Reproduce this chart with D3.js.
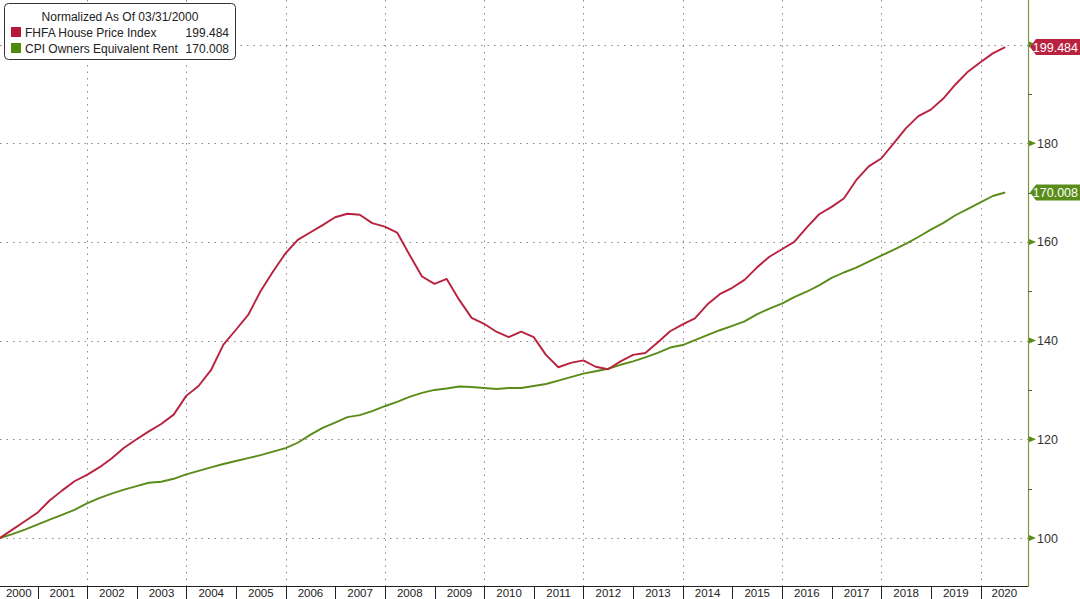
<!DOCTYPE html>
<html><head><meta charset="utf-8">
<script src="https://cdn.jsdelivr.net/npm/d3@7"></script>
<style>
html,body{margin:0;padding:0;background:#fff;}
svg{display:block;font-family:"Liberation Sans",Arial,sans-serif;}
</style></head>
<body><svg id="chart" width="1080" height="599"></svg>
<script>
// ---- data (quarterly, normalized to 100 at 03/31/2000) ----
const quarters = [
"2000-03-31","2000-06-30","2000-09-30","2000-12-31",
"2001-03-31","2001-06-30","2001-09-30","2001-12-31",
"2002-03-31","2002-06-30","2002-09-30","2002-12-31",
"2003-03-31","2003-06-30","2003-09-30","2003-12-31",
"2004-03-31","2004-06-30","2004-09-30","2004-12-31",
"2005-03-31","2005-06-30","2005-09-30","2005-12-31",
"2006-03-31","2006-06-30","2006-09-30","2006-12-31",
"2007-03-31","2007-06-30","2007-09-30","2007-12-31",
"2008-03-31","2008-06-30","2008-09-30","2008-12-31",
"2009-03-31","2009-06-30","2009-09-30","2009-12-31",
"2010-03-31","2010-06-30","2010-09-30","2010-12-31",
"2011-03-31","2011-06-30","2011-09-30","2011-12-31",
"2012-03-31","2012-06-30","2012-09-30","2012-12-31",
"2013-03-31","2013-06-30","2013-09-30","2013-12-31",
"2014-03-31","2014-06-30","2014-09-30","2014-12-31",
"2015-03-31","2015-06-30","2015-09-30","2015-12-31",
"2016-03-31","2016-06-30","2016-09-30","2016-12-31",
"2017-03-31","2017-06-30","2017-09-30","2017-12-31",
"2018-03-31","2018-06-30","2018-09-30","2018-12-31",
"2019-03-31","2019-06-30","2019-09-30","2019-12-31",
"2020-03-31","2020-06-30"];

const fhfa = [
100.0,101.7,103.4,105.1,107.6,109.6,111.5,112.8,114.3,116.1,118.3,120.0,
121.6,123.1,125.0,128.8,130.8,134.0,139.2,142.2,145.2,150.0,154.0,157.7,
160.4,161.9,163.4,165.0,165.7,165.5,163.8,163.1,161.9,157.4,153.0,151.5,
152.5,148.3,144.6,143.4,141.8,140.7,141.8,140.7,137.1,134.6,135.5,136.0,
134.7,134.2,135.8,137.1,137.5,139.6,141.9,143.3,144.5,147.3,149.4,150.7,
152.3,154.8,157.0,158.5,160.0,162.9,165.6,167.1,168.8,172.5,175.3,176.9,
179.9,183.0,185.5,186.8,189.0,191.9,194.5,196.4,198.2,199.484];

const oer = [
100.0,100.8,101.7,102.7,103.7,104.7,105.7,107.0,108.1,109.0,109.8,110.5,
111.2,111.4,112.0,112.9,113.6,114.3,115.0,115.6,116.2,116.8,117.5,118.2,
119.3,120.9,122.3,123.4,124.5,124.9,125.7,126.7,127.6,128.6,129.4,130.0,
130.3,130.7,130.6,130.4,130.2,130.4,130.4,130.8,131.2,131.9,132.6,133.3,
133.8,134.3,135.1,135.8,136.6,137.5,138.6,139.1,140.1,141.1,142.1,143.0,
143.9,145.3,146.5,147.5,148.8,149.9,151.2,152.7,153.8,154.8,156.0,157.2,
158.4,159.6,161.0,162.5,163.8,165.4,166.7,168.0,169.3,170.008];

const years = [2000,2001,2002,2003,2004,2005,2006,2007,2008,2009,2010,
               2011,2012,2013,2014,2015,2016,2017,2018,2019,2020];
const gridYears = [2002,2004,2006,2008,2010,2012,2014,2016,2018,2020];
const yTickLabels = [100,120,140,160,180];
const yGrid = [100,120,140,160,180,200];
const yMinor = [110,130,150,170,190];

const legendTitle = "Normalized As Of 03/31/2000";
const seriesNames = ["FHFA House Price Index","CPI Owners Equivalent Rent"];
const seriesLast = ["199.484","170.008"];

// ---- layout ----
const RED = "#b8223f", GREEN = "#5a8c1a";
const plotL = 0, plotR = 1028, plotT = 0, plotB = 586;
const parse = d3.utcParse("%Y-%m-%d");
const dates = quarters.map(parse);

const x = d3.scaleUtc()
  .domain([parse("2000-03-31"), parse("2020-12-15")])
  .range([plotL, plotR]);
const y = d3.scaleLinear().domain([100, 200]).range([538, 44.5]);

const svg = d3.select("#chart");

// grid
const grid = svg.append("g").attr("stroke", "#8a8a8a").attr("stroke-width", 1)
  .attr("stroke-dasharray", "1.5,5");
grid.selectAll("line.h").data(yGrid).enter().append("line")
  .attr("x1", plotL).attr("x2", plotR)
  .attr("y1", d => Math.round(y(d)) + 0.5).attr("y2", d => Math.round(y(d)) + 0.5);
grid.selectAll("line.v").data(gridYears).enter().append("line")
  .attr("x1", d => Math.round(x(Date.UTC(d,0,1))) + 0.5)
  .attr("x2", d => Math.round(x(Date.UTC(d,0,1))) + 0.5)
  .attr("y1", plotT).attr("y2", plotB);

// lines
const line = (vals) => d3.line()
  .x((d, i) => x(dates[i])).y(d => y(d))(vals);
svg.append("path").attr("d", line(oer)).attr("fill", "none")
  .attr("stroke", GREEN).attr("stroke-width", 1.9).attr("stroke-linejoin", "round");
svg.append("path").attr("d", line(fhfa)).attr("fill", "none")
  .attr("stroke", RED).attr("stroke-width", 1.9).attr("stroke-linejoin", "round");

// x axis
const xa = svg.append("g");
xa.append("line").attr("x1", plotL).attr("x2", plotR)
  .attr("y1", plotB + 0.5).attr("y2", plotB + 0.5).attr("stroke", "#222").attr("stroke-width", 1.2);
xa.selectAll("line.sep").data(years.slice(1)).enter().append("line")
  .attr("x1", d => Math.round(x(Date.UTC(d,0,1))) + 0.5)
  .attr("x2", d => Math.round(x(Date.UTC(d,0,1))) + 0.5)
  .attr("y1", plotB).attr("y2", 599).attr("stroke", "#222").attr("stroke-width", 1);
xa.selectAll("text").data(years).enter().append("text")
  .attr("x", d => {
    const a = Math.max(plotL, x(Date.UTC(d,0,1)));
    const b = Math.min(plotR, x(Date.UTC(d+1,0,1)));
    return (a + b) / 2;
  })
  .attr("y", 596.5).attr("text-anchor", "middle")
  .attr("font-size", 11.5).attr("fill", "#222").text(d => d);

// right axis
const ya = svg.append("g");
ya.append("line").attr("x1", plotR + 0.5).attr("x2", plotR + 0.5)
  .attr("y1", 0).attr("y2", plotB + 1).attr("stroke", "#7c9a3c").attr("stroke-width", 1.2);
ya.selectAll("path.tri").data(yGrid).enter().append("path")
  .attr("d", d => { const yy = y(d); return `M${plotR+1},${yy-3}L${plotR+8},${yy}L${plotR+1},${yy+3}Z`; })
  .attr("fill", GREEN);
ya.selectAll("line.minor").data(yMinor).enter().append("line")
  .attr("x1", plotR).attr("x2", plotR + 4)
  .attr("y1", d => Math.round(y(d)) + 0.5).attr("y2", d => Math.round(y(d)) + 0.5)
  .attr("stroke", "#555").attr("stroke-width", 1);
const yAxis = d3.axisRight(y).tickValues(yTickLabels).tickSize(0).tickPadding(0).tickFormat(d3.format("d"));
const yg = svg.append("g").attr("transform", `translate(${plotR + 9},0)`).call(yAxis);
yg.select(".domain").remove();
yg.selectAll("text").attr("font-size", 12.5).attr("fill", "#333")
  .attr("font-family", "'Liberation Sans',Arial,sans-serif");

// last value tags
const tags = [{v: fhfa[fhfa.length-1], c: RED, t: seriesLast[0]},
              {v: oer[oer.length-1], c: GREEN, t: seriesLast[1]}];
const tg = svg.append("g").selectAll("g").data(tags).enter().append("g");
tg.append("path").attr("d", d => {
  const yy = y(d.v);
  return `M${plotR+2},${yy}L${plotR+8},${yy-8}L1080,${yy-8}L1080,${yy+8}L${plotR+8},${yy+8}Z`;
}).attr("fill", d => d.c);
tg.append("text").attr("x", 1078).attr("y", d => y(d.v)).attr("dy", "0.36em")
  .attr("text-anchor", "end").attr("font-size", 12.5).attr("fill", "#fff").text(d => d.t);

// legend
const lg = svg.append("g");
lg.append("rect").attr("x", 4.5).attr("y", 3.5).attr("width", 231).attr("height", 56)
  .attr("rx", 4).attr("fill", "#fff").attr("stroke", "#333").attr("stroke-width", 1);
lg.append("text").attr("x", 120).attr("y", 21).attr("text-anchor", "middle")
  .attr("font-size", 12).attr("fill", "#222").text(legendTitle);
const rows = lg.selectAll("g.row").data([0,1]).enter().append("g")
  .attr("transform", i => `translate(0,${i*16})`);
rows.append("rect").attr("x", 11).attr("y", 27).attr("width", 10).attr("height", 10)
  .attr("fill", i => i === 0 ? "#b5173a" : "#4f8a10");
rows.append("text").attr("x", 25).attr("y", 37).attr("font-size", 12).attr("fill", "#222")
  .text(i => seriesNames[i]);
rows.append("text").attr("x", 229).attr("y", 37).attr("text-anchor", "end")
  .attr("font-size", 12).attr("fill", "#222").text(i => seriesLast[i]);
</script></body></html>
